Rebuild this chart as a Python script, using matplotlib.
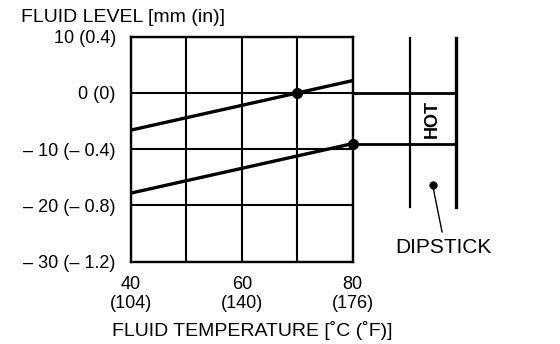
import matplotlib.pyplot as plt

plt.rcParams['font.family'] = ['Liberation Sans', 'DejaVu Sans']

# --- data ---
temp_ticks = [40, 60, 80]
temp_labels = ['40\n(104)', '60\n(140)', '80\n(176)']
level_ticks = [10, 0, -10, -20, -30]
level_labels = ['10 (0.4)', '0 (0)', '\u2013 10 (\u2013 0.4)', '\u2013 20 (\u2013 0.8)', '\u2013 30 (\u2013 1.2)']

hot_temp = [40, 80]
hot_level = [-6.6, 2.2]
cold_temp = [40, 80]
cold_level = [-17.8, -9.0]

hot_point = (70, 0)
cold_point = (80, -9.0)

# dipstick drawn in data units, to the right of the plot
dip_left, dip_right = 90.3, 98.6
dip_top, dip_bottom = 9.8, -20.3

fig = plt.figure(figsize=(5.6, 3.44), dpi=100)
ax = fig.add_axes([0.234, 0.2393, 0.396, 0.6540])
ax.set_xlim(40, 80)
ax.set_ylim(-30, 10)

for s in ax.spines.values():
    s.set_linewidth(1.7)
ax.set_xticks(temp_ticks)
ax.set_xticks([50, 70], minor=True)
ax.set_xticklabels(temp_labels, fontsize=13)
ax.set_yticks(level_ticks)
ax.set_yticklabels(level_labels, fontsize=13)
ax.grid(True, which='both', color='black', linewidth=1.5)
ax.tick_params(which='both', length=0)
ax.tick_params(axis='x', pad=10)
ax.tick_params(axis='y', pad=11)

ax.plot(hot_temp, hot_level, color='black', linewidth=2.4, solid_capstyle='butt')
ax.plot(cold_temp, cold_level, color='black', linewidth=2.4, solid_capstyle='butt')
ax.plot(*hot_point, 'o', color='black', markersize=7)
ax.plot(*cold_point, 'o', color='black', markersize=7, clip_on=False)

# dipstick
ax.plot([dip_left, dip_left], [dip_top, dip_bottom], color='black', linewidth=1.6, clip_on=False)
ax.plot([dip_right, dip_right], [dip_top, dip_bottom], color='black', linewidth=2.4, clip_on=False)
ax.plot([80, dip_right], [hot_point[1], hot_point[1]], color='black', linewidth=2.0, clip_on=False)
ax.plot([80, dip_right], [cold_point[1], cold_point[1]], color='black', linewidth=2.0, clip_on=False)
ax.text(94.3, -4.6, 'HOT', rotation=90, ha='center', va='center', fontsize=13,
        fontweight='bold', clip_on=False)
ax.plot(94.4, -16.4, 'o', color='black', markersize=5, clip_on=False)
ax.plot([94.4, 96.1], [-16.4, -24.7], color='black', linewidth=1.0, clip_on=False)
ax.text(96.3, -27.4, 'DIPSTICK', ha='center', va='center', fontsize=15, clip_on=False)

fig.text(21 / 560, 1 - 17 / 344, 'FLUID LEVEL [mm (in)]', ha='left', va='center', fontsize=14)
fig.text(252 / 560, 1 - 331 / 344, 'FLUID TEMPERATURE [\u02daC (\u02daF)]', ha='center', va='center',
         fontsize=14)

fig.savefig('out.png', dpi=100)
